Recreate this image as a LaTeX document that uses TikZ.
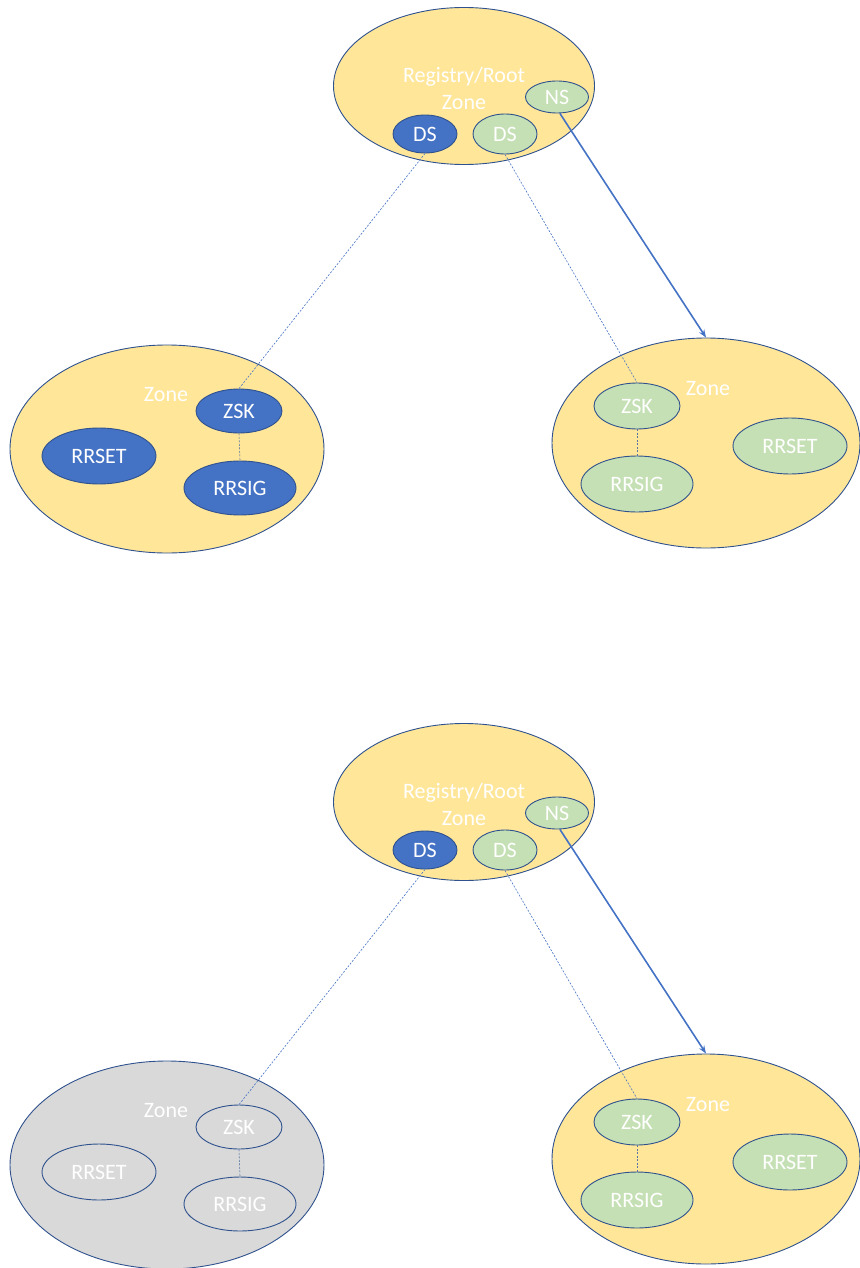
\documentclass[tikz,border=0pt]{standalone}
\usepackage{fontspec}
\setmainfont{Carlito}
\usetikzlibrary{shapes.geometric,arrows.meta}

\definecolor{zonefill}{HTML}{FFE699}
\definecolor{zonegrey}{HTML}{D9D9D9}
\definecolor{edgeblue}{HTML}{2F528F}
\definecolor{keyblue}{HTML}{4472C4}
\definecolor{keygreen}{HTML}{C5E0B4}
\definecolor{linkblue}{HTML}{4472C4}

\tikzset{
  zone/.style={ellipse, draw=edgeblue, line width=0.9pt, fill=zonefill, inner sep=0pt},
  greyzone/.style={zone, fill=zonegrey},
  lbl/.style={text=white, inner sep=0pt, font=\fontsize{22}{27}\selectfont},
  rec/.style={ellipse, draw=edgeblue, line width=0.9pt, inner sep=0pt,
              text=white, font=\fontsize{22}{27}\selectfont},
  signed/.style={rec, fill=keyblue},
  secure/.style={rec, fill=keygreen},
  bare/.style={rec},
  delegation/.style={draw=linkblue, line width=1.6pt, -{Stealth[length=8pt,width=6pt]}},
  trustlink/.style={draw=linkblue, line width=0.6pt, dash pattern=on 2pt off 1.5pt},
  siglink/.style={draw=edgeblue!80, line width=0.6pt, dash pattern=on 2pt off 1.5pt}
}

% One delegation picture: #1 name prefix, #2 vertical shift,
% #3 style of the left child zone, #4 style of its records
\newcommand\dnspanel[4]{%
\begin{scope}[yshift=#2]
  % parent zone
  \node[zone, minimum width=261pt, minimum height=157pt] (#1root) at (464,86) {};
  \node[lbl, align=center] (#1rootlbl) at (464,88) {Registry/Root\\Zone};
  \node[secure, minimum width=63pt, minimum height=32pt] (#1ns) at (557,97) {NS};
  \node[signed, minimum width=64pt, minimum height=38pt] (#1dsa) at (425,134) {DS};
  \node[secure, minimum width=64pt, minimum height=40pt] (#1dsb) at (505,134) {DS};
  % left child zone
  \node[#3, minimum width=314pt, minimum height=208pt] (#1lz) at (167,449) {};
  \node[lbl] (#1lzlbl) at (166,395) {Zone};
  \node[#4, minimum width=86pt, minimum height=44pt] (#1lzsk) at (239,411) {ZSK};
  \node[#4, minimum width=114pt, minimum height=56pt] (#1lrrset) at (99,456) {RRSET};
  \node[#4, minimum width=112pt, minimum height=54pt] (#1lrrsig) at (240,488) {RRSIG};
  % right child zone
  \node[zone, minimum width=308pt, minimum height=210pt] (#1rz) at (706,443) {};
  \node[lbl] (#1rzlbl) at (708,389) {Zone};
  \node[secure, minimum width=86pt, minimum height=46pt] (#1rzsk) at (637,406) {ZSK};
  \node[secure, minimum width=112pt, minimum height=56pt] (#1rrrsig) at (637,484) {RRSIG};
  \node[secure, minimum width=114pt, minimum height=56pt] (#1rrrset) at (790,446) {RRSET};
  % connectors
  \draw[trustlink] (#1dsa.south) -- (#1lzsk.north);
  \draw[trustlink] (#1dsb.south) -- (#1rzsk.north);
  \draw[siglink] (#1lzsk.south) -- (#1lrrsig.north);
  \draw[siglink] (#1rzsk.south) -- (#1rrrsig.north);
  \draw[delegation] (#1ns.-80) -- (#1rz.north);
\end{scope}}

\begin{document}
\begin{tikzpicture}[x=1pt, y=-1pt]
  \useasboundingbox (0,0) rectangle (859,1268);
  \dnspanel{a}{0pt}{zone}{signed}
  \dnspanel{b}{-716pt}{greyzone}{bare}
\end{tikzpicture}
\end{document}
